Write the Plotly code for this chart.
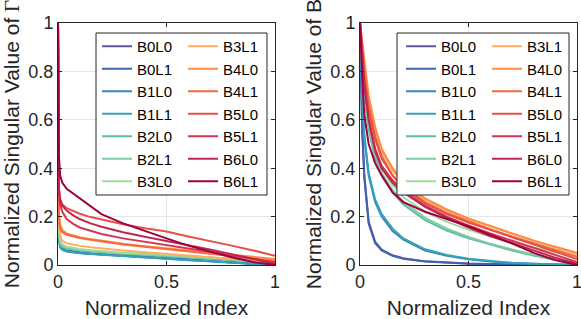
import plotly.graph_objects as go

# ---------------- data ----------------
names = ["B0L0", "B0L1", "B1L0", "B1L1", "B2L0", "B2L1", "B3L0",
         "B3L1", "B4L0", "B4L1", "B5L0", "B5L1", "B6L0", "B6L1"]
colors = ["#6652a4", "#3f62b1", "#3a86c0", "#33a3b6", "#5ebd9b", "#7ccba3", "#a3d99c",
          "#fdae61", "#fc8d45", "#f5693d", "#e6504a", "#d53550", "#c0274f", "#9e0142"]

x_index = [0, 0.004, 0.01, 0.02, 0.04, 0.07, 0.1, 0.15, 0.2, 0.3, 0.4, 0.5, 0.6, 0.7, 0.8, 0.9, 1.0]

# Normalized singular values of Gamma (left panel)
gamma_B0L0 = [1, 0.12, 0.075, 0.065, 0.058, 0.054, 0.051, 0.047, 0.044, 0.038, 0.033, 0.028, 0.022, 0.017, 0.011, 0.005, 0.0]
gamma_B0L1 = [1, 0.12, 0.078, 0.067, 0.060, 0.056, 0.053, 0.049, 0.046, 0.040, 0.034, 0.029, 0.023, 0.017, 0.011, 0.005, 0.0]
gamma_B1L0 = [1, 0.12, 0.075, 0.064, 0.057, 0.053, 0.050, 0.046, 0.043, 0.037, 0.032, 0.027, 0.021, 0.016, 0.010, 0.004, 0.0]
gamma_B1L1 = [1, 0.11, 0.072, 0.062, 0.056, 0.052, 0.049, 0.045, 0.042, 0.036, 0.031, 0.026, 0.020, 0.015, 0.009, 0.004, 0.0]
gamma_B2L0 = [1, 0.14, 0.090, 0.075, 0.068, 0.063, 0.060, 0.056, 0.052, 0.046, 0.041, 0.036, 0.031, 0.026, 0.021, 0.016, 0.010]
gamma_B2L1 = [1, 0.14, 0.092, 0.078, 0.070, 0.065, 0.062, 0.058, 0.054, 0.048, 0.043, 0.038, 0.033, 0.028, 0.023, 0.018, 0.012]
gamma_B3L0 = [1, 0.15, 0.100, 0.085, 0.076, 0.070, 0.066, 0.061, 0.057, 0.051, 0.046, 0.041, 0.036, 0.031, 0.026, 0.021, 0.016]
gamma_B3L1 = [1, 0.18, 0.120, 0.100, 0.090, 0.084, 0.079, 0.073, 0.068, 0.060, 0.053, 0.046, 0.040, 0.033, 0.026, 0.019, 0.012]
gamma_B4L0 = [1, 0.22, 0.165, 0.145, 0.130, 0.122, 0.115, 0.107, 0.100, 0.088, 0.078, 0.069, 0.060, 0.051, 0.042, 0.033, 0.025]
gamma_B4L1 = [1, 0.20, 0.150, 0.135, 0.125, 0.118, 0.112, 0.104, 0.097, 0.085, 0.075, 0.066, 0.057, 0.048, 0.038, 0.028, 0.018]
gamma_B5L0 = [1, 0.32, 0.270, 0.250, 0.235, 0.222, 0.212, 0.198, 0.187, 0.168, 0.152, 0.138, 0.118, 0.100, 0.080, 0.060, 0.038]
gamma_B5L1 = [1, 0.30, 0.250, 0.220, 0.190, 0.170, 0.155, 0.140, 0.128, 0.110, 0.095, 0.082, 0.068, 0.055, 0.040, 0.025, 0.010]
gamma_B6L0 = [1, 0.32, 0.270, 0.245, 0.225, 0.205, 0.190, 0.172, 0.158, 0.135, 0.117, 0.100, 0.082, 0.064, 0.045, 0.025, 0.005]
gamma_B6L1 = [1, 0.45, 0.370, 0.340, 0.315, 0.295, 0.275, 0.240, 0.210, 0.172, 0.140, 0.110, 0.080, 0.055, 0.032, 0.012, 0.0]

# Normalized singular values of B (right panel)
b_B0L0 = [1, 0.80, 0.55, 0.36, 0.17, 0.090, 0.060, 0.038, 0.026, 0.014, 0.008, 0.005, 0.003, 0.002, 0.001, 0.0005, 0]
b_B0L1 = [1, 0.82, 0.57, 0.37, 0.18, 0.095, 0.063, 0.040, 0.028, 0.015, 0.009, 0.006, 0.004, 0.003, 0.002, 0.001, 0]
b_B1L0 = [1, 0.85, 0.68, 0.52, 0.37, 0.26, 0.20, 0.14, 0.105, 0.060, 0.038, 0.024, 0.014, 0.008, 0.004, 0.002, 0]
b_B1L1 = [1, 0.86, 0.70, 0.54, 0.38, 0.27, 0.21, 0.15, 0.110, 0.065, 0.041, 0.026, 0.016, 0.009, 0.005, 0.002, 0]
b_B2L0 = [1, 0.92, 0.80, 0.69, 0.56, 0.44, 0.37, 0.30, 0.25, 0.185, 0.142, 0.110, 0.084, 0.060, 0.039, 0.021, 0.008]
b_B2L1 = [1, 0.93, 0.82, 0.71, 0.58, 0.46, 0.38, 0.31, 0.26, 0.195, 0.150, 0.116, 0.088, 0.064, 0.042, 0.024, 0.010]
b_B3L0 = [1, 0.94, 0.84, 0.73, 0.60, 0.48, 0.40, 0.33, 0.28, 0.220, 0.178, 0.146, 0.118, 0.094, 0.072, 0.053, 0.035]
b_B3L1 = [1, 0.97, 0.92, 0.82, 0.68, 0.55, 0.47, 0.39, 0.34, 0.27, 0.225, 0.190, 0.160, 0.130, 0.100, 0.072, 0.045]
b_B4L0 = [1, 0.97, 0.93, 0.85, 0.70, 0.57, 0.48, 0.40, 0.345, 0.275, 0.230, 0.192, 0.160, 0.130, 0.100, 0.075, 0.050]
b_B4L1 = [1, 0.96, 0.90, 0.80, 0.66, 0.53, 0.45, 0.37, 0.325, 0.26, 0.215, 0.180, 0.148, 0.118, 0.090, 0.062, 0.035]
b_B5L0 = [1, 0.95, 0.88, 0.78, 0.64, 0.52, 0.44, 0.37, 0.32, 0.255, 0.210, 0.175, 0.145, 0.115, 0.085, 0.055, 0.025]
b_B5L1 = [1, 0.94, 0.86, 0.75, 0.60, 0.48, 0.41, 0.35, 0.31, 0.245, 0.200, 0.163, 0.130, 0.100, 0.070, 0.040, 0.012]
b_B6L0 = [1, 0.94, 0.85, 0.74, 0.60, 0.47, 0.40, 0.34, 0.30, 0.24, 0.195, 0.155, 0.120, 0.090, 0.060, 0.030, 0.005]
b_B6L1 = [1, 0.90, 0.78, 0.62, 0.50, 0.42, 0.37, 0.30, 0.26, 0.22, 0.190, 0.160, 0.125, 0.090, 0.050, 0.020, 0.0]

gamma_series = [gamma_B0L0, gamma_B0L1, gamma_B1L0, gamma_B1L1, gamma_B2L0, gamma_B2L1, gamma_B3L0,
                gamma_B3L1, gamma_B4L0, gamma_B4L1, gamma_B5L0, gamma_B5L1, gamma_B6L0, gamma_B6L1]
b_series = [b_B0L0, b_B0L1, b_B1L0, b_B1L1, b_B2L0, b_B2L1, b_B3L0,
            b_B3L1, b_B4L0, b_B4L1, b_B5L0, b_B5L1, b_B6L0, b_B6L1]

x_ticks = [0, 0.5, 1]
x_ticklabels = ["0", "0.5", "1"]
y_ticks = [0, 0.2, 0.4, 0.6, 0.8, 1]
y_ticklabels = ["0", "0.2", "0.4", "0.6", "0.8", "1"]

# ---------------- figure ----------------
W, H = 581, 319
ML, MR, MT, MB = 58, 4, 23, 54
GW = W - ML - MR
GH = H - MT - MB

def px_x(p):
    return (p - ML) / GW

def px_y(p):
    return (H - MB - p) / GH

fig = go.Figure()
half = len(names) // 2
for panel, series in enumerate([gamma_series, b_series]):
    xa = "x" if panel == 0 else "x2"
    ya = "y" if panel == 0 else "y2"
    for i, (nm, col, ys) in enumerate(zip(names, colors, series)):
        leg_idx = panel * 2 + (0 if i < half else 1) + 1
        leg = "legend" if leg_idx == 1 else f"legend{leg_idx}"
        fig.add_trace(go.Scatter(
            x=x_index, y=ys, mode="lines", name=nm,
            line=dict(color=col, width=2),
            xaxis=xa, yaxis=ya, legend=leg, showlegend=True,
        ))

FONT = "Liberation Sans, Arial, sans-serif"
axis_common = dict(
    range=[0, 1], showline=True, linecolor="#262626", linewidth=1, mirror="allticks",
    ticks="inside", ticklen=4, tickcolor="#262626",
    showgrid=True, gridcolor="#e6e6e6", gridwidth=1, zeroline=False,
    tickfont=dict(family=FONT, size=18, color="#262626"),
    automargin=False, ticklabeloverflow="allow",
)
left_dom = [0, px_x(275)]
right_dom = [px_x(360), 1]
TFONT = dict(size=21, family=FONT, color="#262626")

fig.update_layout(
    width=W, height=H,
    margin=dict(l=ML, r=MR, t=MT, b=MB),
    paper_bgcolor="white", plot_bgcolor="white",
    font=dict(family=FONT, color="#262626"),
    xaxis=dict(domain=left_dom, anchor="y", tickvals=x_ticks, ticktext=x_ticklabels,
               title=dict(text="Normalized Index", font=TFONT, standoff=13),
               **axis_common),
    yaxis=dict(domain=[0, 1], anchor="x", tickvals=y_ticks, ticktext=y_ticklabels,
               title=dict(text='Normalized Singular Value of <span style="font-family:Liberation Serif">Γ</span>',
                          font=TFONT, standoff=3),
               **axis_common),
    xaxis2=dict(domain=right_dom, anchor="y2", tickvals=x_ticks, ticktext=x_ticklabels,
                title=dict(text="Normalized Index", font=TFONT, standoff=13),
                **axis_common),
    yaxis2=dict(domain=[0, 1], anchor="x2", tickvals=y_ticks, ticktext=y_ticklabels,
                title=dict(text="Normalized Singular Value of B", font=TFONT, standoff=3),
                **axis_common),
)

legend_common = dict(
    orientation="v", xanchor="left", yanchor="top",
    bgcolor="rgba(0,0,0,0)", borderwidth=0,
    font=dict(family=FONT, size=15, color="#000000"),
    tracegroupgap=0,
)
leg_top = px_y(30)
fig.update_layout(
    legend=dict(x=px_x(97), y=leg_top, **legend_common),
    legend2=dict(x=px_x(183), y=leg_top, **legend_common),
    legend3=dict(x=px_x(401), y=leg_top, **legend_common),
    legend4=dict(x=px_x(487), y=leg_top, **legend_common),
)

# legend frames
for x0, x1 in [(96, 267), (397, 569)]:
    fig.add_shape(type="rect", xref="paper", yref="paper",
                  x0=px_x(x0), x1=px_x(x1), y0=px_y(195), y1=px_y(33),
                  line=dict(color="#262626", width=1), fillcolor="white", layer="above")

fig.write_html("out.html", config={"displayModeBar": False},
               post_script="document.body.style.margin='0';")
